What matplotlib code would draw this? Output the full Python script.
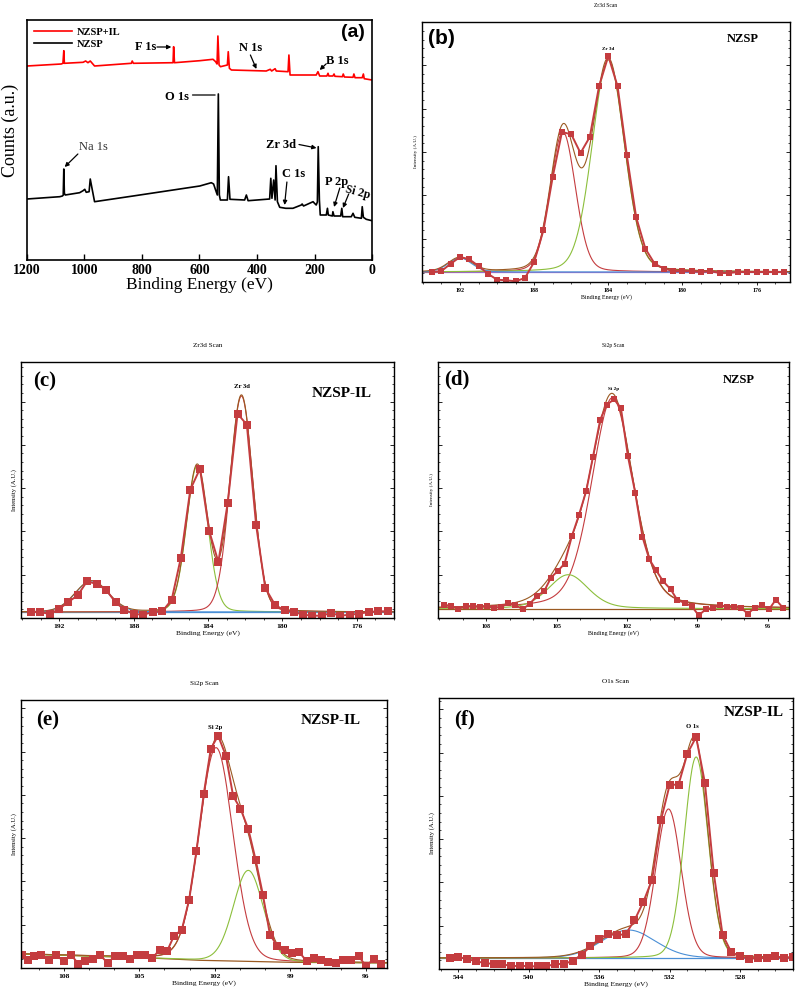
import matplotlib
matplotlib.use("Agg")
import matplotlib.pyplot as plt
from matplotlib.ticker import MultipleLocator, AutoMinorLocator
import numpy as np

plt.rcParams['font.family'] = ['Liberation Serif', 'DejaVu Serif']
plt.rcParams['font.weight'] = 'bold'

# ---------------- (a) survey spectra ----------------
nzsp_ev = [1200, 1086, 1077, 1074, 1072, 1070, 1067, 1017, 1005, 999, 994, 984, 980, 975, 965,
           831, 715, 599, 559, 551, 544, 538, 534.5, 531, 527.5, 503, 499, 494, 443, 437, 431,
           356, 352, 348, 342, 337, 334, 329, 321, 300, 275, 246, 243, 238, 205, 200, 194, 190,
           187, 183, 180, 159, 155, 152, 138, 136, 132, 109, 105, 102, 72, 66, 60, 37, 34, 30, 20, 0]
nzsp_counts = [61, 63.3, 64, 64.8, 91, 66.7, 65, 67.3, 69.3, 70.7, 67.7, 68.3, 81, 73.3, 58.3,
               64, 69, 74, 77.3, 76, 70, 65, 166, 65, 60, 60, 83.3, 60.7, 60, 65, 59.3,
               61, 81.7, 61.7, 80, 60, 94.3, 58.3, 52.7, 51.7, 51.7, 55, 56, 54, 58.3, 56.7, 55, 58,
               113.3, 60, 45, 45, 51.7, 45, 44, 48.3, 44, 44, 51.7, 43.3, 43.3, 46.7, 42.7, 41.7, 53.3, 42.7, 40.7, 39.3]
il_ev = [1200, 1081, 1075, 1072, 1070, 1005, 996, 988, 980, 965, 837, 834, 830, 692, 690, 687,
         599, 553, 544, 539, 536, 532, 527, 503, 500, 496, 489, 368, 354, 349, 337, 333, 292, 289, 285,
         194, 188, 182, 157, 153, 150, 136, 132, 129, 103, 100, 96, 66, 63, 59, 34, 30, 27, 0]
il_counts = [194, 196, 196.7, 209.3, 196.7, 197.7, 199, 197.3, 199, 194, 196.7, 199, 196.7, 197.3, 213.3, 197.3,
             199.3, 200.7, 198.3, 196, 224, 195, 193.3, 195, 208.3, 191.7, 190, 189, 190.7, 189, 191.3, 189,
             188.3, 205, 185, 185, 188.3, 184, 184, 186.7, 184, 184, 186, 183.7, 183.3, 186, 183, 182.7, 186,
             182.3, 182.3, 186, 181.3, 180]

# ---------------- (b) Zr3d NZSP ----------------
b_ev = [193.5, 193.0, 192.5, 192.0, 191.5, 191.0, 190.5, 190.0, 189.5, 189.0, 188.5, 188.0, 187.5,
        187.0, 186.5, 186.0, 185.5, 185.0, 184.5, 184.0, 183.5, 183.0, 182.5, 182.0, 181.5, 181.0,
        180.5, 180.0, 179.5, 179.0, 178.5, 178.0, 177.5, 177.0, 176.5, 176.0, 175.5, 175.0, 174.5]
b_counts = [10, 11, 18.3, 25, 22.7, 16, 8.3, 2.3, 1.7, 0.7, 4, 20, 51.7, 105, 150, 147.7, 129, 145,
            195.7, 226, 195.7, 126.7, 65, 33.3, 18.3, 13.3, 11, 11, 11, 10, 11, 9, 9, 10, 10, 10, 10, 10, 10]
b_centers = [186.45, 184.0, 192.0]
b_heights = [140, 212, 14]
b_fwhm = [1.6, 2.05, 1.5]
b_base_ev = [194.1, 174.2]
b_base = [10, 10]

# ---------------- (c) Zr3d NZSP-IL ----------------
c_ev = [193.53, 193.03, 192.5, 192.0, 191.51, 191.0, 190.5, 189.98, 189.48, 188.97, 188.49, 187.98,
        187.48, 186.95, 186.45, 185.95, 185.46, 184.95, 184.43, 183.93, 183.44, 182.94, 182.41, 181.91,
        181.41, 180.92, 180.38, 179.87, 179.39, 178.88, 178.4, 177.89, 177.39, 176.88, 176.38, 175.87,
        175.37, 174.86, 174.34]
c_counts = [6, 6, 4, 9, 16, 22.7, 36.7, 34, 28.3, 15.7, 8.3, 4, 3.3, 6, 6.7, 18.3, 60, 128.3, 149.3,
            86.7, 56, 115, 204.3, 193.3, 92.7, 30, 12.7, 7.7, 6, 3.3, 2.3, 2.3, 5, 2.3, 3.3, 4.3, 6, 6.7, 6.7]
c_centers = [184.58, 182.2, 190.25]
c_heights = [146, 216, 31]
c_fwhm = [1.35, 1.45, 2.1]
c_base_ev = [194.1, 174.0]
c_base = [6, 6]

# ---------------- (d) Si2p NZSP ----------------
d_ev = [109.79, 109.49, 109.18, 108.85, 108.57, 108.26, 107.97, 107.66, 107.36, 107.05, 106.75, 106.45,
        106.15, 105.85, 105.53, 105.24, 104.95, 104.66, 104.35, 104.05, 103.74, 103.45, 103.14, 102.86,
        102.55, 102.26, 101.96, 101.65, 101.34, 101.05, 100.76, 100.46, 100.14, 99.85, 99.55, 99.24,
        98.95, 98.64, 98.34, 98.04, 97.74, 97.44, 97.15, 96.86, 96.55, 96.25, 95.95, 95.66, 95.36]
d_counts = [13.3, 12, 9.3, 11.7, 12, 11, 11.7, 10.3, 11, 15, 12.7, 9, 13.7, 22, 26.7, 40.3, 47, 54.3,
            81.7, 102.7, 126.7, 161, 198.3, 213.3, 218.7, 210, 161.7, 125.3, 81, 58.7, 47.7, 36.7, 28.7,
            17.7, 15.3, 11.7, 2.7, 8.7, 10.3, 12.7, 11, 11, 10.3, 4.3, 10.3, 12.7, 8.7, 18.3, 10.3]
d_centers = [102.62, 104.5]
d_heights = [211, 34]
d_fwhm = [2.1, 2.0]
d_base_ev = [110.1, 95.1]
d_base = [9.3, 9.3]

# ---------------- (e) Si2p NZSP-IL ----------------
e_ev = [109.66, 109.43, 109.19, 108.90, 108.60, 108.31, 108.01, 107.71, 107.42, 107.14, 106.85, 106.58,
        106.25, 105.96, 105.65, 105.36, 105.08, 104.79, 104.48, 104.19, 103.90, 103.62, 103.31, 103.02,
        102.73, 102.44, 102.16, 101.87, 101.56, 101.27, 100.98, 100.67, 100.38, 100.09, 99.81, 99.52,
        99.21, 98.92, 98.64, 98.35, 98.06, 97.78, 97.49, 97.19, 96.89, 96.60, 96.29, 96.00, 95.69, 95.40]
e_counts = [13.3, 8.3, 12.3, 13.3, 7.7, 13.3, 6.7, 13.3, 4, 6.7, 9, 13.3, 5, 12.3, 12.3, 9.3, 13.3, 13.3,
            10, 18.3, 16.7, 32.3, 38.3, 68.3, 116.7, 174, 219.3, 232.3, 212.3, 171.7, 159.3, 139, 108.3,
            73.3, 33.3, 22.3, 18.3, 15, 15.7, 6.7, 10, 8.3, 5.7, 5, 8.3, 8.3, 12.3, 1.7, 9, 4]
e_centers = [101.95, 100.67]
e_heights = [213, 91]
e_fwhm = [1.58, 1.4]
e_base_ev = [109.7, 104.6, 102.6, 99.0, 95.2]
e_base = [14, 10, 7.7, 5.7, 5]

# ---------------- (f) O1s NZSP-IL ----------------
f_ev = [544.5, 544.0, 543.5, 543.0, 542.5, 542.0, 541.5, 541.0, 540.5, 540.0, 539.5, 539.0, 538.5,
        538.0, 537.5, 537.0, 536.5, 536.0, 535.5, 535.0, 534.5, 534.0, 533.5, 533.0, 532.5, 532.0,
        531.5, 531.0, 530.5, 530.0, 529.5, 529.0, 528.5, 528.0, 527.5, 527.0, 526.5, 526.0, 525.5, 525.0]
f_counts = [11, 12, 10, 7.7, 6, 5, 5, 2.7, 3.3, 2.7, 2.7, 2.7, 5, 5, 8.3, 14.3, 22.7, 30, 35.3, 33.7,
            35, 48.7, 67, 89.3, 148.7, 184.3, 184.3, 215.3, 232, 186, 96, 34.3, 16.7, 12.7, 10.3, 11, 11,
            12.7, 11, 12]
f_centers = [534.34, 532.07, 530.5]
f_heights = [28, 149, 201]
f_fwhm = [3.6, 1.7, 1.6]
f_base_ev = [545.1, 525.0]
f_base = [11, 11]

RED = '#c43c3f'
GREEN = '#8cbf3c'
BLUE = '#4a8fd6'
PURPLE = '#9a6cc8'
BROWN = '#9a5a22'


def gl(x, c, h, w, m):
    # Gaussian-Lorentzian peak shape used for the fitted components
    g = np.exp(-4 * np.log(2) * (x - c) ** 2 / w ** 2)
    l = 1.0 / (1 + 4 * (x - c) ** 2 / w ** 2)
    return h * ((1 - m) * g + m * l)


def spectrum(rect, ev, counts, centers, heights, fwhm, base_ev, base, colors, base_color,
             xlim, ylim, xmajor, title, peak_label, peak_xy, sample, sample_xy, letter, letter_xy,
             small, mix=0.2, letter_font='Liberation Serif'):
    ax = fig.add_axes(rect)
    x = np.linspace(min(xlim), max(xlim), 800)
    bg = np.interp(x, base_ev[::-1], base[::-1])
    ax.plot(base_ev, base, color=base_color, lw=0.9)
    env = bg.copy()
    for c, h, w, col in zip(centers, heights, fwhm, colors):
        p = gl(x, c, h, w, mix)
        env += p
        ax.plot(x, bg + p, color=col, lw=0.8)
    ax.plot(x, env, color=BROWN, lw=0.8)
    ax.plot(ev, counts, '-s', color=RED, lw=1.4, ms=4.8 if small else 5.6, mew=0)
    ax.set_xlim(*xlim)
    ax.set_ylim(*ylim)
    fs = 4.3 if small else 5.4
    ax.xaxis.set_major_locator(MultipleLocator(xmajor))
    ax.xaxis.set_minor_locator(MultipleLocator(1))
    ax.yaxis.set_major_locator(MultipleLocator(43.3))
    ax.yaxis.set_minor_locator(AutoMinorLocator(5))
    ax.tick_params(axis='x', which='both', direction='out', labelsize=fs, pad=1.5)
    ax.tick_params(axis='x', which='major', length=2.5, width=0.6)
    ax.tick_params(axis='x', which='minor', length=1.5, width=0.5)
    ax.tick_params(axis='y', which='both', direction='in', left=True, right=True, labelleft=False)
    ax.tick_params(axis='y', which='major', length=3, width=0.6)
    ax.tick_params(axis='y', which='minor', length=1.5, width=0.5)
    for s in ax.spines.values():
        s.set_linewidth(1.0)
    ax.set_xlabel('Binding Energy (eV)', fontsize=fs, labelpad=1)
    ax.set_ylabel('Intensity (A.U.)', fontsize=fs - 0.6, labelpad=3)
    ax.set_title(title, fontsize=fs - 0.3, pad=11)
    ax.text(peak_xy[0], peak_xy[1], peak_label, fontsize=fs - 0.6, ha='center', va='bottom')
    ax.text(sample_xy[0], sample_xy[1], sample, transform=ax.transAxes, ha='center', va='center',
            fontsize=9 if small else 11)
    ax.text(letter_xy[0], letter_xy[1], letter, transform=ax.transAxes, ha='center', va='center',
            fontsize=15, family=letter_font)
    return ax


fig = plt.figure(figsize=(7.95, 9.91), dpi=100)
W, H = 795.0, 991.0


def rect(l, r, t, b):
    return [l / W, 1 - b / H, (r - l) / W, (b - t) / H]


# ---- panel (a)
ax = fig.add_axes(rect(27, 372, 20, 260))
ax.plot(il_ev, il_counts, color='red', lw=1.2, label='NZSP+IL')
ax.plot(nzsp_ev, nzsp_counts, color='black', lw=1.2, label='NZSP')
ax.set_xlim(1200, 0)
ax.set_ylim(0, 240)
ax.set_xticks([1200, 1000, 800, 600, 400, 200, 0])
ax.set_yticks([])
ax.tick_params(axis='x', direction='in', length=4, width=1, labelsize=10, pad=3)
for s in ax.spines.values():
    s.set_linewidth(1.2)
ax.set_xlabel('Binding Energy (eV)', fontsize=12.5, labelpad=0)
ax.set_ylabel('Counts (a.u.)', fontsize=13)
ax.yaxis.set_label_coords(-0.022, 0.54)
ax.legend(loc='upper left', frameon=False, handlelength=3.6, labelspacing=0.3, borderaxespad=0.3,
          handletextpad=0.5, prop={'family': 'Liberation Serif', 'weight': 'bold', 'size': 7.5})
ax.text(0.945, 0.946, '(a)', transform=ax.transAxes, ha='center', va='center', fontsize=14,
        family='Liberation Sans')

arrow = dict(arrowstyle='-|>', color='black', lw=0.9, mutation_scale=6, shrinkA=0, shrinkB=0)
ax.text(788, 213, 'F 1s', fontsize=9, ha='center', va='center')
ax.annotate('', xy=(698, 213), xytext=(748, 213), arrowprops=arrow)
ax.text(422, 212, 'N 1s', fontsize=9, ha='center', va='center')
ax.annotate('', xy=(402, 191), xytext=(423, 205), arrowprops=arrow)
ax.text(122, 199, 'B 1s', fontsize=9, ha='center', va='center')
ax.annotate('', xy=(182, 190), xytext=(160, 196), arrowprops=arrow)
ax.text(678, 163, 'O 1s', fontsize=9, ha='center', va='center')
ax.annotate('', xy=(536, 165), xytext=(634, 165), arrowprops=dict(arrowstyle='-', color='black', lw=0.9))
ax.text(968, 113, 'Na 1s', fontsize=9, ha='center', va='center', weight='normal', color='#333333')
ax.annotate('', xy=(1069, 93), xytext=(1023, 106), arrowprops=arrow)
ax.text(315, 115, 'Zr 3d', fontsize=9, ha='center', va='center')
ax.annotate('', xy=(193, 112), xytext=(254, 115.5), arrowprops=arrow)
ax.text(272, 86, 'C 1s', fontsize=9, ha='center', va='center')
ax.annotate('', xy=(304, 55), xytext=(296, 78), arrowprops=arrow)
ax.text(124, 78, 'P 2p', fontsize=9, ha='center', va='center')
ax.annotate('', xy=(132, 53), xytext=(112, 72), arrowprops=arrow)
ax.text(49, 68, 'Si 2p', fontsize=8.5, ha='center', va='center', rotation=-15)
ax.annotate('', xy=(101, 52), xytext=(81, 66), arrowprops=arrow)

# ---- panel (b)
spectrum(rect(422, 790, 22, 282), b_ev, b_counts, b_centers, b_heights, b_fwhm, b_base_ev, b_base,
         [RED, GREEN, BLUE], PURPLE, (194.05, 174.2), (0, 260), 4, 'Zr3d Scan', 'Zr 3d', (184.0, 231),
         'NZSP', (0.872, 0.935), '(b)', (0.054, 0.935), True, mix=0.15, letter_font='Liberation Sans')

# ---- panel (c)
spectrum(rect(21, 394, 362, 618), c_ev, c_counts, c_centers, c_heights, c_fwhm, c_base_ev, c_base,
         [GREEN, RED, BLUE], BLUE, (194.05, 174.0), (0, 256), 4, 'Zr3d Scan', 'Zr 3d', (182.2, 229),
         'NZSP-IL', (0.861, 0.875), '(c)', (0.064, 0.922), False, mix=0.1)

# ---- panel (d)
spectrum(rect(438, 789, 362, 618), d_ev, d_counts, d_centers, d_heights, d_fwhm, d_base_ev, d_base,
         [RED, GREEN], BROWN, (110.05, 95.1), (0, 256), 3, 'Si2p Scan', 'Si 2p', (102.55, 227),
         'NZSP', (0.858, 0.93), '(d)', (0.054, 0.93), True, mix=0.3)

# ---- panel (e)
spectrum(rect(21, 387, 700, 968), e_ev, e_counts, e_centers, e_heights, e_fwhm, e_base_ev, e_base,
         [RED, GREEN], BROWN, (109.7, 95.16), (0, 268), 3, 'Si2p Scan', 'Si 2p', (102.0, 238),
         'NZSP-IL', (0.847, 0.925), '(e)', (0.074, 0.925), False, mix=0.1)

# ---- panel (f)
spectrum(rect(439, 793, 698, 969), f_ev, f_counts, f_centers, f_heights, f_fwhm, f_base_ev, f_base,
         [BLUE, RED, GREEN], BLUE, (545.1, 525.0), (0, 271), 4, 'O1s Scan', 'O 1s', (530.7, 240),
         'NZSP-IL', (0.89, 0.948), '(f)', (0.071, 0.919), False, mix=0.1)

fig.savefig('out.png', dpi=100)
